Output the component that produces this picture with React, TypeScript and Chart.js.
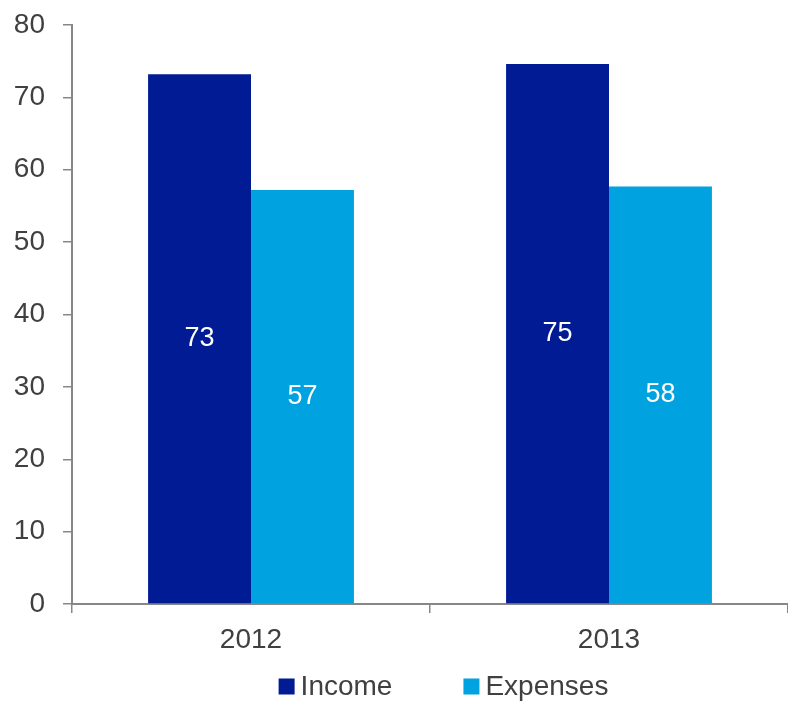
import React, { useEffect, useRef } from "react";
import { Chart, registerables } from "chart.js";

Chart.register(...registerables);

const categories = ["2012", "2013"];
const incomeValues = [73.2, 74.6];
const expensesValues = [57.2, 57.7];
const incomeLabels = ["73", "75"];
const expensesLabels = ["57", "58"];
const yTicks = [0, 10, 20, 30, 40, 50, 60, 70, 80];

const FONT = "Arial, 'Liberation Sans', sans-serif";
const TEXT = "#404040";
const AXIS = "#878787";

const barLabelPlugin = {
  id: "barLabels",
  afterDatasetsDraw(chart: any) {
    const ctx = chart.ctx;
    const labelSets = [incomeLabels, expensesLabels];
    ctx.save();
    ctx.fillStyle = "#ffffff";
    ctx.font = `27px ${FONT}`;
    ctx.textAlign = "center";
    ctx.textBaseline = "middle";
    chart.data.datasets.forEach((_ds: any, di: number) => {
      const meta = chart.getDatasetMeta(di);
      meta.data.forEach((bar: any, i: number) => {
        const p = bar.getProps(["x", "y", "base"], true);
        ctx.fillText(labelSets[di][i], p.x, (p.y + p.base) / 2);
      });
    });
    ctx.restore();
  },
};

const legendPlugin = {
  id: "customLegend",
  afterDraw(chart: any) {
    const ctx = chart.ctx;
    const box = 16;
    const gap = 6;
    const itemGap = 71;
    const cy = 687;
    ctx.save();
    ctx.font = `28px ${FONT}`;
    ctx.textBaseline = "middle";
    ctx.textAlign = "left";
    const items = chart.data.datasets.map((ds: any) => ({
      label: ds.label,
      color: ds.backgroundColor,
      w: ctx.measureText(ds.label).width,
    }));
    const total =
      items.reduce((s: number, it: any) => s + box + gap + it.w, 0) +
      itemGap * (items.length - 1);
    let x = 443.5 - total / 2;
    items.forEach((it: any) => {
      ctx.fillStyle = it.color;
      ctx.fillRect(x, cy - box / 2 - 0.5, box, box);
      ctx.fillStyle = TEXT;
      ctx.fillText(it.label, x + box + gap, cy);
      x += box + gap + it.w + itemGap;
    });
    ctx.restore();
  },
};

export default function App() {
  const ref = useRef<HTMLCanvasElement>(null);
  useEffect(() => {
    if (!ref.current) return;
    const chart = new Chart(ref.current, {
      type: "bar",
      data: {
        labels: categories,
        datasets: [
          {
            label: "Income",
            data: incomeValues,
            backgroundColor: "#001B94",
            categoryPercentage: 0.575,
            barPercentage: 1,
          },
          {
            label: "Expenses",
            data: expensesValues,
            backgroundColor: "#00A2E0",
            categoryPercentage: 0.575,
            barPercentage: 1,
          },
        ],
      },
      options: {
        animation: false,
        responsive: true,
        maintainAspectRatio: false,
        layout: { padding: { top: 25, right: 0, left: 0, bottom: 0 } },
        plugins: {
          tooltip: { enabled: false },
          legend: { display: false },
        },
        scales: {
          x: {
            afterFit: (s: any) => {
              s.height = 97;
              s.paddingLeft = 0;
              s.paddingRight = 0;
            },
            grid: {
              display: true,
              offset: true,
              drawOnChartArea: false,
              tickLength: 9,
              color: AXIS,
              lineWidth: 1.5,
            },
            border: { color: AXIS, width: 2 },
            ticks: { color: TEXT, font: { size: 28, family: FONT }, padding: 10 },
          },
          y: {
            min: 0,
            max: 80,
            afterBuildTicks: (s: any) => {
              s.ticks = yTicks.map((v) => ({ value: v }));
            },
            afterFit: (s: any) => {
              s.width = 72;
              s.paddingTop = 0;
              s.paddingBottom = 0;
            },
            grid: {
              display: true,
              drawOnChartArea: false,
              tickLength: 9,
              color: AXIS,
              lineWidth: 1.5,
            },
            border: { color: AXIS, width: 2 },
            ticks: { color: TEXT, font: { size: 28, family: FONT }, padding: 18 },
          },
        },
      },
      plugins: [barLabelPlugin, legendPlugin],
    } as any);
    return () => chart.destroy();
  }, []);
  return (
    <div style={{ position: "absolute", left: 0, top: 0, width: 788, height: 701 }}>
      <canvas ref={ref} />
    </div>
  );
}
